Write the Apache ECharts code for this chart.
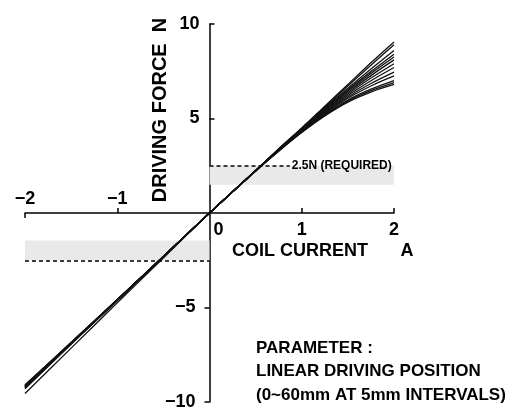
<!DOCTYPE html>
<html>
<head>
<meta charset="utf-8">
<script src="https://cdn.jsdelivr.net/npm/echarts@6/dist/echarts.min.js"></script>
<style>html,body{margin:0;padding:0;background:#fff}#c{width:517px;height:410px}</style>
</head>
<body>
<div id="c"></div>
<script>
// Coil current samples (A)
var currentA = [-2, -1.5, -1, -0.5, 0, 0.5, 0.75, 1, 1.25, 1.5, 1.75, 2];
// Driving force (N), one curve per linear driving position 0..60 mm (5 mm steps)
var force00 = [-9.15, -6.85, -4.60, -2.30, 0, 2.25, 3.40, 4.50, 5.65, 6.80, 7.95, 9.05];
var force05 = [-9.20, -6.90, -4.60, -2.30, 0, 2.25, 3.38, 4.48, 5.60, 6.72, 7.82, 8.90];
var force10 = [-9.20, -6.90, -4.60, -2.30, 0, 2.25, 3.37, 4.46, 5.55, 6.60, 7.62, 8.60];
var force15 = [-9.25, -6.90, -4.62, -2.30, 0, 2.25, 3.36, 4.44, 5.50, 6.52, 7.48, 8.40];
var force20 = [-9.10, -6.85, -4.58, -2.30, 0, 2.24, 3.35, 4.42, 5.46, 6.45, 7.38, 8.25];
var force25 = [-9.15, -6.88, -4.60, -2.30, 0, 2.24, 3.34, 4.40, 5.42, 6.38, 7.27, 8.10];
var force30 = [-9.20, -6.90, -4.60, -2.30, 0, 2.24, 3.33, 4.38, 5.38, 6.30, 7.14, 7.90];
var force35 = [-9.25, -6.92, -4.62, -2.31, 0, 2.23, 3.32, 4.36, 5.33, 6.22, 7.00, 7.70];
var force40 = [-9.10, -6.85, -4.58, -2.29, 0, 2.23, 3.31, 4.34, 5.29, 6.14, 6.85, 7.45];
var force45 = [-9.20, -6.90, -4.60, -2.30, 0, 2.23, 3.30, 4.32, 5.25, 6.07, 6.72, 7.25];
var force50 = [-9.15, -6.88, -4.60, -2.30, 0, 2.22, 3.29, 4.30, 5.20, 5.98, 6.55, 7.00];
var force55 = [-9.30, -6.95, -4.63, -2.31, 0, 2.22, 3.28, 4.28, 5.17, 5.92, 6.47, 6.90];
var force60 = [-9.55, -7.15, -4.75, -2.38, 0, 2.22, 3.27, 4.26, 5.14, 5.87, 6.40, 6.80];
var curves = [force00, force05, force10, force15, force20, force25, force30,
              force35, force40, force45, force50, force55, force60];
var positionsMm = [0, 5, 10, 15, 20, 25, 30, 35, 40, 45, 50, 55, 60];

// Required force bands and threshold
var requiredForce = 2.5;
var bandPos = [[0, 1.5], [2, 2.5]];
var bandNeg = [[-2, -2.5], [0, -1.45]];
var requiredLinePos = [[0, 2.5], [0.87, 2.5]];
var requiredLineNeg = [[-2, -2.5], [0, -2.5]];

// Axis ranges and tick values
var xRange = [-2, 2];
var yRange = [-10, 10];
var xTicksPosLabels = [0, 1, 2];
var xTicksNegLabels = [-2, -1];
var yTicksPos = [5, 10];
var yTicksNeg = [-10, -5];

// Plot area (pixels) and axis crossing
var G = { left: 25, top: 24, width: 369, height: 378 };
var W = 517, H = 410;
function xPix(v) { return G.left + (v - xRange[0]) / (xRange[1] - xRange[0]) * G.width; }
function yPix(v) { return G.top + (yRange[1] - v) / (yRange[1] - yRange[0]) * G.height; }
var yAxisOffset = -(xPix(0) - G.left);            // move y axis to x = 0
var xAxisOffset = -((G.top + G.height) - yPix(0)); // move x axis to y = 0

var FONT = '"Liberation Sans", Arial, sans-serif';
function fmt(v) { return v < 0 ? '\u2212' + Math.abs(v) : String(v); }

var series = curves.map(function (c, i) {
  return {
    name: positionsMm[i] + 'mm',
    type: 'line',
    xAxisIndex: 0, yAxisIndex: 0,
    showSymbol: false,
    smooth: 0.3,
    silent: true,
    lineStyle: { color: '#111', width: 1.3 },
    data: currentA.map(function (x, j) { return [x, c[j]]; }),
    z: 3
  };
});

series.push({
  type: 'line',
  data: [],
  silent: true,
  markArea: {
    silent: true,
    itemStyle: { color: '#e9e9e9' },
    data: [
      [{ coord: bandPos[0] }, { coord: bandPos[1] }],
      [{ coord: bandNeg[0] }, { coord: bandNeg[1] }]
    ]
  },
  markLine: {
    silent: true,
    symbol: ['none', 'none'],
    animation: false,
    lineStyle: { color: '#000', width: 1.5, type: [4, 3] },
    label: { show: false },
    data: [
      [{ coord: requiredLinePos[0],
         label: { show: true, position: 'end', distance: 2,
                  formatter: requiredForce + 'N (REQUIRED)',
                  color: '#000', fontFamily: FONT, fontWeight: 'bold', fontSize: 12 } },
       { coord: requiredLinePos[1] }],
      [{ coord: requiredLineNeg[0] }, { coord: requiredLineNeg[1] }]
    ]
  },
  z: 1
});

var axisLbl = { color: '#000', fontFamily: FONT, fontWeight: 'bold', fontSize: 18 };
var tickStyle = { color: '#000', width: 1.5 };

var option = {
  animation: false,
  backgroundColor: '#fff',
  grid: { left: G.left, right: W - G.left - G.width, top: G.top, bottom: H - G.top - G.height,
          containLabel: false, outerBoundsMode: 'none' },
  xAxis: [
    {
      type: 'value', min: xRange[0], max: xRange[1], interval: 1, position: 'bottom', offset: xAxisOffset,
      axisLine: { show: true, onZero: false, lineStyle: { color: '#000', width: 1.5 } },
      axisTick: { show: true, inside: true, length: 5, customValues: [-1, 1, 2], lineStyle: tickStyle },
      axisLabel: Object.assign({}, axisLbl, {
        customValues: xTicksPosLabels, margin: 8,
        formatter: function (v) { return v === 0 ? '{z|0}' : fmt(v); },
        rich: { z: { padding: [0, 0, 0, 18], color: '#000', fontFamily: FONT, fontWeight: 'bold', fontSize: 18 } }
      }),
      splitLine: { show: false }
    },
    {
      type: 'value', min: xRange[0], max: xRange[1], interval: 1, position: 'bottom', offset: xAxisOffset,
      axisLine: { show: false, onZero: false },
      axisTick: { show: true, inside: false, length: 5, customValues: [-2], lineStyle: tickStyle },
      axisLabel: Object.assign({}, axisLbl, { inside: true, customValues: xTicksNegLabels, margin: 5, formatter: fmt }),
      splitLine: { show: false }
    }
  ],
  yAxis: [
    {
      type: 'value', min: yRange[0], max: yRange[1], interval: 5, position: 'left', offset: yAxisOffset,
      axisLine: { show: true, onZero: false, lineStyle: { color: '#000', width: 1.5 } },
      axisTick: { show: true, inside: true, length: 5, customValues: yTicksPos, lineStyle: tickStyle },
      axisLabel: Object.assign({}, axisLbl, { customValues: yTicksPos, margin: 10, formatter: fmt }),
      splitLine: { show: false }
    },
    {
      type: 'value', min: yRange[0], max: yRange[1], interval: 5, position: 'left', offset: yAxisOffset,
      axisLine: { show: false, onZero: false },
      axisTick: { show: true, inside: false, length: 5, customValues: yTicksNeg, lineStyle: tickStyle },
      axisLabel: Object.assign({}, axisLbl, { customValues: yTicksNeg, margin: 14, formatter: fmt }),
      splitLine: { show: false }
    }
  ],
  graphic: [
    { type: 'text', x: 160, y: 110, rotation: Math.PI / 2, silent: true,
      style: { text: 'DRIVING FORCE  N', x: 0, y: 0, fill: '#000',
               font: 'bold 20px ' + FONT, align: 'center', verticalAlign: 'middle',
               textAlign: 'center', textVerticalAlign: 'middle' } },
    { type: 'text', x: 232, y: 251, silent: true,
      style: { text: 'COIL CURRENT', x: 0, y: 0, fill: '#000',
               font: 'bold 18px ' + FONT, align: 'left', verticalAlign: 'middle',
               textAlign: 'left', textVerticalAlign: 'middle' } },
    { type: 'text', x: 407, y: 251, silent: true,
      style: { text: 'A', x: 0, y: 0, fill: '#000',
               font: 'bold 18px ' + FONT, align: 'center', verticalAlign: 'middle',
               textAlign: 'center', textVerticalAlign: 'middle' } },
    { type: 'text', x: 256, y: 348, silent: true,
      style: { text: 'PARAMETER :', x: 0, y: 0, fill: '#000',
               font: 'bold 17px ' + FONT, align: 'left', verticalAlign: 'middle',
               textAlign: 'left', textVerticalAlign: 'middle' } },
    { type: 'text', x: 256, y: 371, silent: true,
      style: { text: 'LINEAR DRIVING POSITION', x: 0, y: 0, fill: '#000',
               font: 'bold 17px ' + FONT, align: 'left', verticalAlign: 'middle',
               textAlign: 'left', textVerticalAlign: 'middle' } },
    { type: 'text', x: 256, y: 395, silent: true,
      style: { text: '(0~60mm AT 5mm INTERVALS)', x: 0, y: 0, fill: '#000',
               font: 'bold 17px ' + FONT, align: 'left', verticalAlign: 'middle',
               textAlign: 'left', textVerticalAlign: 'middle' } }
  ],
  series: series
};

var chart = echarts.init(document.getElementById('c'), null, { renderer: 'canvas' });
chart.setOption(option);
</script>
</body>
</html>
